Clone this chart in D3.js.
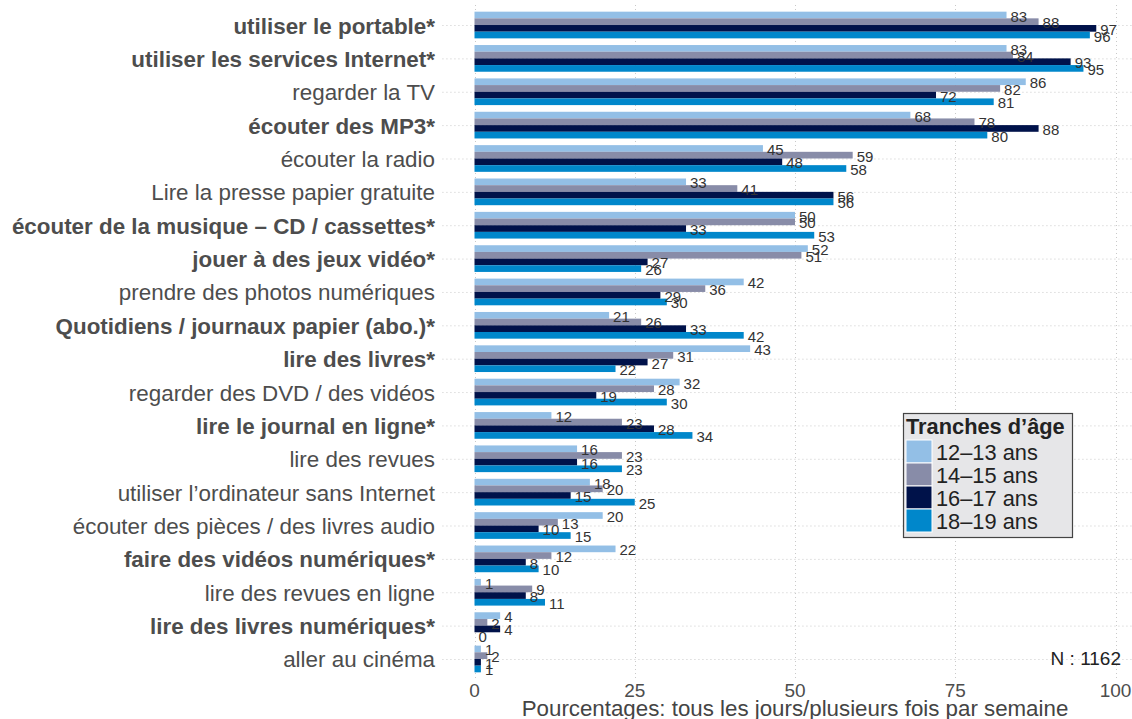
<!DOCTYPE html>
<html>
<head>
<meta charset="utf-8">
<script src="https://cdn.jsdelivr.net/npm/d3@7"></script>
<style>
  body { margin: 0; background: #fff; }
  svg { display: block; font-family: "Liberation Sans", Arial, Helvetica, sans-serif; }
</style>
</head>
<body>
<div id="chart"></div>
<script>
// activités (du haut vers le bas); * = différence significative
const activities = [
    "utiliser le portable*",
    "utiliser les services Internet*",
    "regarder la TV",
    "écouter des MP3*",
    "écouter la radio",
    "Lire la presse papier gratuite",
    "écouter de la musique – CD / cassettes*",
    "jouer à des jeux vidéo*",
    "prendre des photos numériques",
    "Quotidiens / journaux papier (abo.)*",
    "lire des livres*",
    "regarder des DVD / des vidéos",
    "lire le journal en ligne*",
    "lire des revues",
    "utiliser l’ordinateur sans Internet",
    "écouter des pièces / des livres audio",
    "faire des vidéos numériques*",
    "lire des revues en ligne",
    "lire des livres numériques*",
    "aller au cinéma"
];

const ageGroups = ["12–13 ans", "14–15 ans", "16–17 ans", "18–19 ans"];

const age12_13 = [83, 83, 86, 68, 45, 33, 50, 52, 42, 21, 43, 32, 12, 16, 18, 20, 22, 1, 4, 1];
const age14_15 = [88, 84, 82, 78, 59, 41, 50, 51, 36, 26, 31, 28, 23, 23, 20, 13, 12, 9, 2, 2];
const age16_17 = [97, 93, 72, 88, 48, 56, 33, 27, 29, 33, 27, 19, 28, 16, 15, 10, 8, 8, 4, 1];
const age18_19 = [96, 95, 81, 80, 58, 56, 53, 26, 30, 42, 22, 30, 34, 23, 25, 15, 10, 11, 0, 1];

const xTicks = [0, 25, 50, 75, 100];
const colors = ["#93bfe6", "#888ca8", "#00124a", "#0087cb"];

const xTitle = "Pourcentages: tous les jours/plusieurs fois par semaine";
const legendTitle = "Tranches d’âge";
const nLabel = "N : 1162";

function drawChart() {
    const W = 1132, H = 719;
    const seriesValues = [age12_13, age14_15, age16_17, age18_19];

    const rows = activities.map((a, i) => ({
        activity: a,
        values: ageGroups.map((g, j) => ({ group: g, value: seriesValues[j][i] }))
    }));

    const svg = d3.select("#chart").append("svg")
        .attr("width", W)
        .attr("height", H);

    const x = d3.scaleLinear()
        .domain([0, 100])
        .range([474.5, 1115.5]);

    const panelLeft = x(-5);
    const panelRight = W;
    const panelTop = 5, panelBottom = 679;

    const y = d3.scalePoint()
        .domain(activities)
        .range([panelTop, panelBottom])
        .padding(0.6);

    const step = y.step();

    const ySub = d3.scaleBand()
        .domain(ageGroups)
        .range([-0.4 * step, 0.4 * step]);

    const color = d3.scaleOrdinal()
        .domain(ageGroups)
        .range(colors);

    // grille pointillée
    const grid = svg.append("g").attr("class", "grid")
        .attr("stroke", "#c9c9c9")
        .attr("stroke-width", 1)
        .attr("stroke-dasharray", "1,3");

    grid.selectAll(".hline")
        .data(activities)
        .enter()
        .append("line")
        .attr("x1", panelLeft)
        .attr("x2", panelRight)
        .attr("y1", d => y(d) + 0.5)
        .attr("y2", d => y(d) + 0.5);

    grid.selectAll(".vline")
        .data(xTicks)
        .enter()
        .append("line")
        .attr("x1", d => Math.round(x(d)) + 0.5)
        .attr("x2", d => Math.round(x(d)) + 0.5)
        .attr("y1", panelTop)
        .attr("y2", panelBottom);

    // barres
    const group = svg.selectAll(".row")
        .data(rows)
        .enter()
        .append("g")
        .attr("class", "row")
        .attr("transform", d => `translate(0,${y(d.activity)})`);

    group.selectAll("rect")
        .data(d => d.values)
        .enter()
        .append("rect")
        .attr("x", x(0))
        .attr("y", d => ySub(d.group))
        .attr("width", d => x(d.value) - x(0))
        .attr("height", ySub.bandwidth())
        .attr("fill", d => color(d.group));

    group.selectAll(".val")
        .data(d => d.values)
        .enter()
        .append("text")
        .attr("class", "val")
        .attr("x", d => x(d.value) + 4)
        .attr("y", d => ySub(d.group) + ySub.bandwidth() / 2 + 1)
        .attr("dominant-baseline", "central")
        .style("font-size", "15px")
        .style("fill", "#333")
        .text(d => d.value);

    // libellés des activités
    svg.append("g")
        .selectAll("text")
        .data(activities)
        .enter()
        .append("text")
        .attr("x", 435)
        .attr("y", d => y(d) + 1)
        .attr("text-anchor", "end")
        .attr("dominant-baseline", "central")
        .style("font-size", "22.4px")
        .style("font-weight", d => d.endsWith("*") ? "bold" : "normal")
        .style("fill", "#4d4d4d")
        .text(d => d);

    // axe x
    svg.append("g")
        .selectAll("text")
        .data(xTicks)
        .enter()
        .append("text")
        .attr("x", d => x(d))
        .attr("y", 697)
        .attr("text-anchor", "middle")
        .style("font-size", "19px")
        .style("fill", "#4d4d4d")
        .text(d => d);

    svg.append("text")
        .attr("x", x(50))
        .attr("y", 716)
        .attr("text-anchor", "middle")
        .style("font-size", "22.3px")
        .style("fill", "#444")
        .text(xTitle);

    svg.append("text")
        .attr("x", 1121)
        .attr("y", y(activities[activities.length - 1]))
        .attr("text-anchor", "end")
        .attr("dominant-baseline", "central")
        .style("font-size", "19px")
        .style("fill", "#222")
        .text(nLabel);

    // légende
    const legend = svg.append("g")
        .attr("transform", "translate(903,413)");

    legend.append("rect")
        .attr("x", 0.5)
        .attr("y", 0.5)
        .attr("width", 169)
        .attr("height", 124)
        .attr("fill", "#e6e6e8")
        .attr("stroke", "#444")
        .attr("stroke-width", 1.2);

    legend.append("text")
        .attr("x", 3)
        .attr("y", 21)
        .style("font-size", "21.8px")
        .style("font-weight", "bold")
        .style("fill", "#222")
        .text(legendTitle);

    const item = legend.selectAll(".item")
        .data(ageGroups)
        .enter()
        .append("g")
        .attr("class", "item")
        .attr("transform", (d, i) => `translate(3,${27 + i * 23})`);

    item.append("rect")
        .attr("width", 26)
        .attr("height", 23)
        .attr("fill", d => color(d))
        .attr("stroke", "#fff")
        .attr("stroke-width", 1);

    item.append("text")
        .attr("x", 30)
        .attr("y", 12.5)
        .attr("dominant-baseline", "central")
        .style("font-size", "21.8px")
        .style("fill", "#222")
        .text(d => d);
}

window.addEventListener("load", drawChart);
</script>
</body>
</html>
